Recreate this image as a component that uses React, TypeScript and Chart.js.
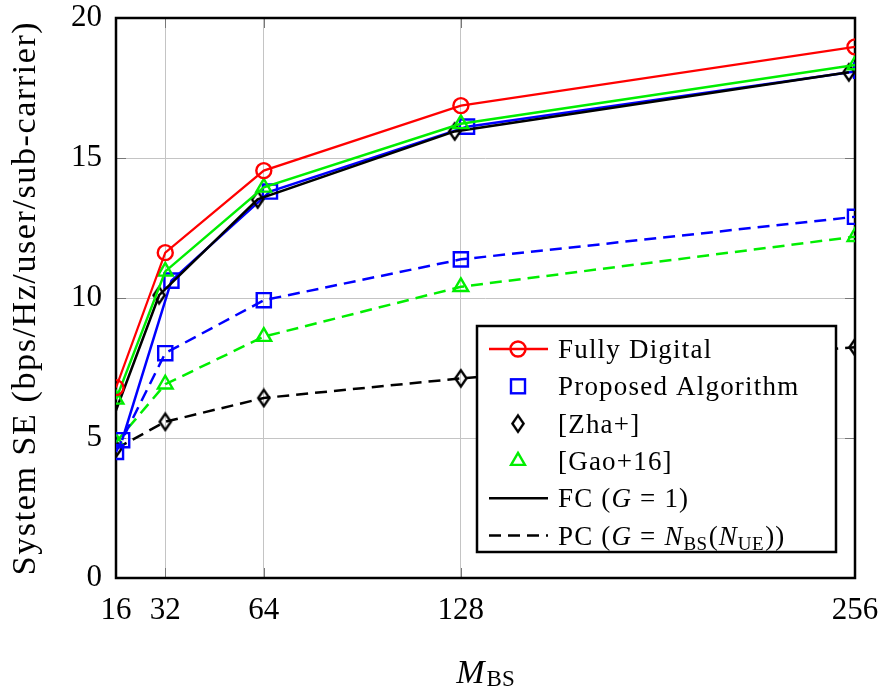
import React, { useEffect, useRef } from 'react';
import { Chart, registerables } from 'chart.js';

Chart.register(...registerables);

// Number of base-station antennas
const M_BS = [16, 32, 64, 128, 256];
const X_TICKS = [16, 32, 64, 128, 256];
const Y_TICKS = [0, 5, 10, 15, 20];

// System SE (bps/Hz/user/sub-carrier)
const fullyDigital = [6.8, 11.62, 14.55, 16.87, 18.97];
const proposedFC = [4.92, 10.62, 13.8, 16.12, 18.12];
const zhaFC = [5.4, 10.1, 13.52, 15.95, 18.06];
const gaoFC = [6.38, 10.95, 13.95, 16.22, 18.32];
const proposedPC = [4.5, 8.03, 9.92, 11.38, 12.9];
const zhaPC = [4.62, 5.58, 6.43, 7.13, 8.24];
const gaoPC = [4.85, 6.92, 8.62, 10.4, 12.19];

// the FC curves of the two hybrid schemes are nudged sideways so they stay readable
const SHIFT_PROPOSED_FC = 2;
const SHIFT_ZHA_FC = -2;

const Y_TITLE = 'System SE (bps/Hz/user/sub-carrier)';

type Seg = { t: string; s: 'n' | 'i' | 'sub' };
type LegendItem = { label: Seg[]; color: string; line: 'solid' | 'dashed' | null; marker: string | null };

const LEGEND_ITEMS: LegendItem[] = [
  { label: [{ t: 'Fully Digital', s: 'n' }], color: '#ff0000', line: 'solid', marker: 'circle' },
  { label: [{ t: 'Proposed Algorithm', s: 'n' }], color: '#0000ff', line: null, marker: 'square' },
  { label: [{ t: '[Zha+]', s: 'n' }], color: '#000000', line: null, marker: 'diamond' },
  { label: [{ t: '[Gao+16]', s: 'n' }], color: '#00ee00', line: null, marker: 'triangle' },
  {
    label: [{ t: 'FC (', s: 'n' }, { t: 'G', s: 'i' }, { t: ' = 1)', s: 'n' }],
    color: '#000000', line: 'solid', marker: null,
  },
  {
    label: [
      { t: 'PC (', s: 'n' }, { t: 'G', s: 'i' }, { t: ' = ', s: 'n' }, { t: 'N', s: 'i' },
      { t: 'BS', s: 'sub' }, { t: '(', s: 'n' }, { t: 'N', s: 'i' }, { t: 'UE', s: 'sub' }, { t: '))', s: 'n' },
    ],
    color: '#000000', line: 'dashed', marker: null,
  },
];

const FONT = '"Liberation Serif", "Times New Roman", serif';
const RED = '#ff0000';
const BLUE = '#0000ff';
const GREEN = '#00ee00';
const BLACK = '#000000';
const DASH = [12, 7];
const MARK_LW = 2.4;

function makeDiamond(color: string) {
  const w = 11, h = 16, lw = MARK_LW;
  const c = document.createElement('canvas');
  c.width = Math.ceil(w + lw * 2);
  c.height = Math.ceil(h + lw * 2);
  const g = c.getContext('2d')!;
  g.strokeStyle = color;
  g.lineWidth = lw;
  g.beginPath();
  g.moveTo(c.width / 2, lw);
  g.lineTo(c.width - lw, c.height / 2);
  g.lineTo(c.width / 2, c.height - lw);
  g.lineTo(lw, c.height / 2);
  g.closePath();
  g.stroke();
  return c;
}

const pts = (ys: number[], shift = 0) => M_BS.map((m, i) => ({ x: m + shift, y: ys[i] }));

function drawRich(ctx: CanvasRenderingContext2D, segs: Seg[], x: number, baseline: number, size: number, spacing: number) {
  let cx = x;
  for (const seg of segs) {
    if (seg.s === 'n') {
      ctx.font = `${size}px ${FONT}`;
      ctx.letterSpacing = `${spacing}px`;
      ctx.fillText(seg.t, cx, baseline);
      cx += ctx.measureText(seg.t).width;
    } else if (seg.s === 'i') {
      ctx.font = `italic ${size}px ${FONT}`;
      ctx.letterSpacing = '0px';
      ctx.fillText(seg.t, cx, baseline);
      cx += ctx.measureText(seg.t).width + 1;
    } else {
      ctx.font = `${Math.round(size * 0.72)}px ${FONT}`;
      ctx.letterSpacing = '0.5px';
      ctx.fillText(seg.t, cx, baseline + size * 0.2);
      cx += ctx.measureText(seg.t).width + 1;
    }
  }
  ctx.letterSpacing = '0px';
  return cx;
}

const noScalePadding = (s: any) => {
  s.paddingTop = 0;
  s.paddingBottom = 0;
  s.paddingLeft = 0;
  s.paddingRight = 0;
};

export default function App() {
  const ref = useRef<HTMLCanvasElement | null>(null);

  useEffect(() => {
    const canvas = ref.current;
    if (!canvas) return;
    const diamond = makeDiamond(BLACK);

    const common = {
      fill: false,
      tension: 0,
      borderWidth: 2.5,
      pointBorderWidth: MARK_LW,
      pointBackgroundColor: 'rgba(0,0,0,0)',
      pointHoverRadius: 8,
    };

    const frame = {
      id: 'frame',
      beforeDatasetsDraw(chart: any) {
        const { ctx, chartArea: a, scales } = chart;
        ctx.save();
        ctx.strokeStyle = '#777777';
        ctx.lineWidth = 1;
        const tl = 10;
        for (const v of X_TICKS.slice(1, -1)) {
          const px = Math.round(scales.x.getPixelForValue(v)) + 0.5;
          ctx.beginPath();
          ctx.moveTo(px, a.bottom); ctx.lineTo(px, a.bottom - tl);
          ctx.moveTo(px, a.top); ctx.lineTo(px, a.top + tl);
          ctx.stroke();
        }
        for (const v of Y_TICKS.slice(1, -1)) {
          const py = Math.round(scales.y.getPixelForValue(v)) + 0.5;
          ctx.beginPath();
          ctx.moveTo(a.left, py); ctx.lineTo(a.left + tl, py);
          ctx.moveTo(a.right, py); ctx.lineTo(a.right - tl, py);
          ctx.stroke();
        }
        ctx.strokeStyle = BLACK;
        ctx.lineWidth = 2.5;
        ctx.strokeRect(a.left, a.top, a.right - a.left, a.bottom - a.top);
        ctx.restore();
      },
      afterDraw(chart: any) {
        const { ctx, chartArea: a } = chart;
        ctx.save();
        ctx.fillStyle = BLACK;
        // y-axis title
        ctx.save();
        ctx.translate(35, (a.top + a.bottom) / 2);
        ctx.rotate(-Math.PI / 2);
        ctx.font = `34px ${FONT}`;
        ctx.textAlign = 'center';
        ctx.textBaseline = 'alphabetic';
        ctx.letterSpacing = '1.6px';
        ctx.fillText(Y_TITLE, 0, 0);
        ctx.restore();

        // x-axis title M_BS
        ctx.textBaseline = 'alphabetic';
        ctx.textAlign = 'left';
        ctx.font = `italic 34px ${FONT}`;
        const mW = ctx.measureText('M').width;
        ctx.font = `23px ${FONT}`;
        const sW = ctx.measureText('BS').width;
        const cx = (a.left + a.right) / 2;
        const x0 = cx - (mW + sW + 2) / 2;
        ctx.font = `italic 34px ${FONT}`;
        ctx.fillText('M', x0, 683);
        ctx.font = `23px ${FONT}`;
        ctx.fillText('BS', x0 + mW + 2, 686);

        // legend
        const L = { left: 477, top: 326, right: 836, bottom: 552 };
        ctx.fillStyle = '#ffffff';
        ctx.fillRect(L.left, L.top, L.right - L.left, L.bottom - L.top);
        ctx.strokeStyle = BLACK;
        ctx.lineWidth = 2.5;
        ctx.strokeRect(L.left, L.top, L.right - L.left, L.bottom - L.top);
        const rowH = 37.3;
        LEGEND_ITEMS.forEach((it, i) => {
          const cy = L.top + 23 + i * rowH;
          const x1 = 489, x2 = 548, mx = 518;
          if (it.line) {
            ctx.save();
            ctx.strokeStyle = it.color;
            ctx.lineWidth = 2.5;
            ctx.setLineDash(it.line === 'dashed' ? DASH : []);
            ctx.beginPath();
            ctx.moveTo(x1, cy); ctx.lineTo(x2, cy);
            ctx.stroke();
            ctx.restore();
          }
          if (it.marker) {
            ctx.save();
            ctx.strokeStyle = it.color;
            ctx.lineWidth = MARK_LW;
            ctx.beginPath();
            if (it.marker === 'circle') {
              ctx.arc(mx, cy, 7.5, 0, Math.PI * 2);
              ctx.stroke();
            } else if (it.marker === 'square') {
              ctx.strokeRect(mx - 7, cy - 7, 14, 14);
            } else if (it.marker === 'diamond') {
              ctx.drawImage(diamond, mx - diamond.width / 2, cy - diamond.height / 2);
            } else if (it.marker === 'triangle') {
              const r = 8;
              ctx.moveTo(mx, cy - r);
              ctx.lineTo(mx + r * 0.866, cy + r * 0.5);
              ctx.lineTo(mx - r * 0.866, cy + r * 0.5);
              ctx.closePath();
              ctx.stroke();
            }
            ctx.restore();
          }
          ctx.fillStyle = BLACK;
          drawRich(ctx, it.label, 558, cy + 9, 27, 1.2);
        });
        ctx.restore();
      },
    };

    const chart = new Chart(canvas, {
      type: 'line',
      data: {
        datasets: [
          { ...common, label: 'Fully Digital', data: pts(fullyDigital), borderColor: RED, pointBorderColor: RED, pointStyle: 'circle', pointRadius: 7.5, borderWidth: 2.2 },
          { ...common, label: '[Gao+16] FC', data: pts(gaoFC), borderColor: GREEN, pointBorderColor: GREEN, pointStyle: 'triangle', pointRadius: 8.5 },
          { ...common, label: '[Zha+] FC', data: pts(zhaFC, SHIFT_ZHA_FC), borderColor: BLACK, pointBorderColor: BLACK, pointStyle: diamond, pointRadius: 8, clip: { left: 0, right: 0, top: false, bottom: false } },
          { ...common, label: 'Proposed FC', data: pts(proposedFC, SHIFT_PROPOSED_FC), borderColor: BLUE, pointBorderColor: BLUE, pointStyle: 'rect', pointRadius: 10, clip: { left: 0, right: 0, top: false, bottom: false } },
          { ...common, label: 'Proposed PC', data: pts(proposedPC), borderColor: BLUE, pointBorderColor: BLUE, pointStyle: 'rect', pointRadius: 10, borderDash: DASH },
          { ...common, label: '[Gao+16] PC', data: pts(gaoPC), borderColor: GREEN, pointBorderColor: GREEN, pointStyle: 'triangle', pointRadius: 8.5, borderDash: DASH },
          { ...common, label: '[Zha+] PC', data: pts(zhaPC), borderColor: BLACK, pointBorderColor: BLACK, pointStyle: diamond, pointRadius: 8, borderDash: DASH },
        ] as any,
      },
      options: {
        animation: false,
        responsive: false,
        devicePixelRatio: 1,
        layout: { padding: { left: 0, top: 18, right: 26, bottom: 0 } },
        plugins: { legend: { display: false }, tooltip: { enabled: false } },
        scales: {
          x: {
            type: 'linear',
            min: 16,
            max: 256,
            afterBuildTicks: (s: any) => { s.ticks = X_TICKS.map((v) => ({ value: v })); },
            afterFit: (s: any) => { s.height = 113; noScalePadding(s); },
            grid: { color: '#c4c4c4', lineWidth: 1, drawTicks: false },
            border: { display: false },
            ticks: { font: { family: FONT, size: 31 }, color: BLACK, padding: 14, maxRotation: 0, autoSkip: false, callback: (v: any) => String(v) },
          },
          y: {
            min: 0,
            max: 20,
            afterBuildTicks: (s: any) => { s.ticks = Y_TICKS.map((v) => ({ value: v })); },
            afterFit: (s: any) => { s.width = 116; noScalePadding(s); },
            grid: { color: '#c4c4c4', lineWidth: 1, drawTicks: false },
            border: { display: false },
            ticks: { font: { family: FONT, size: 31 }, color: BLACK, padding: 14, callback: (v: any) => String(v) },
          },
        },
      },
      plugins: [frame],
    } as any);

    return () => chart.destroy();
  }, []);

  return (
    <div style={{ position: 'absolute', left: 0, top: 0, width: 881, height: 691, background: '#fff' }}>
      <canvas ref={ref} width={881} height={691} style={{ display: 'block' }} />
    </div>
  );
}
